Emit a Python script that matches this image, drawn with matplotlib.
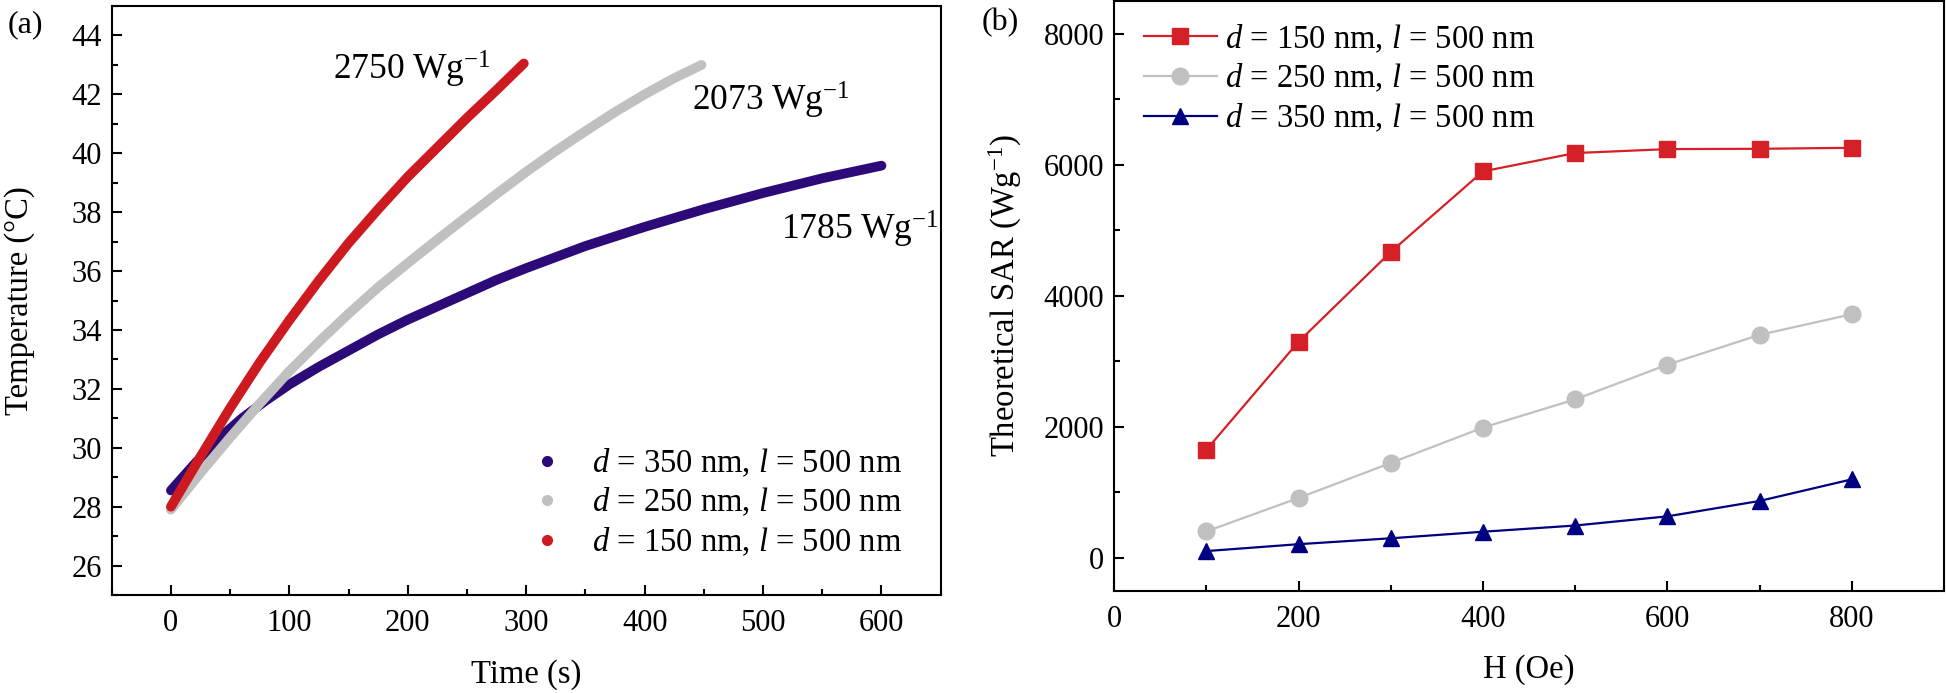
import numpy as np
import matplotlib
matplotlib.use('Agg')
import matplotlib.pyplot as plt
from matplotlib.lines import Line2D
from matplotlib.ticker import MultipleLocator

plt.rcParams['font.family'] = 'Liberation Serif'
plt.rcParams['mathtext.fontset'] = 'custom'
plt.rcParams['mathtext.rm'] = 'Liberation Serif'
plt.rcParams['mathtext.it'] = 'Liberation Serif:italic'

# (a) heating curves
t_150 = [0, 25, 50, 75, 100, 125, 150, 175, 200, 225, 250, 275, 298]
T_150 = [28.0, 29.7, 31.35, 32.9, 34.33, 35.68, 36.95, 38.1, 39.2, 40.2, 41.2, 42.15, 43.05]

t_250 = [0, 25, 50, 75, 100, 125, 150, 175, 200, 225, 250, 275, 300, 325, 350, 375, 400, 425, 448]
T_250 = [27.9, 29.15, 30.35, 31.5, 32.6, 33.6, 34.55, 35.45, 36.27, 37.07, 37.85, 38.62, 39.37,
         40.08, 40.75, 41.4, 42.0, 42.55, 43.0]

t_350 = [0, 20, 40, 60, 80, 100, 125, 150, 175, 200, 225, 250, 275, 300, 350, 400, 450, 500, 550, 600]
T_350 = [28.55, 29.45, 30.3, 31.0, 31.6, 32.15, 32.75, 33.3, 33.85, 34.35, 34.8, 35.25, 35.7, 36.1,
         36.85, 37.5, 38.1, 38.65, 39.15, 39.58]

sar_labels = ['2750 Wg$^{\\mathregular{-1}}$', '2073 Wg$^{\\mathregular{-1}}$', '1785 Wg$^{\\mathregular{-1}}$']

# (b) theoretical SAR vs field
H = [100, 200, 300, 400, 500, 600, 700, 800]
sar_150 = [1650, 3300, 4670, 5900, 6180, 6240, 6245, 6260]
sar_250 = [405, 915, 1450, 1990, 2420, 2950, 3405, 3720]
sar_350 = [105, 210, 300, 400, 495, 635, 870, 1200]

lab_150 = '$d$ = 150 nm, $l$ = 500 nm'
lab_250 = '$d$ = 250 nm, $l$ = 500 nm'
lab_350 = '$d$ = 350 nm, $l$ = 500 nm'

c_blue_a = '#2c0a78'
c_gray = '#c0c0c0'
c_red_a = '#cc1a20'
c_red_b = '#d42026'
c_blue_b = '#000080'

fs_tick = 22
fs_lab = 23.5
fs_leg = 23.5

fig = plt.figure(figsize=(19.46, 6.93), dpi=100)
ax1 = fig.add_axes([0.0574, 0.1414, 0.4260, 0.8499])
ax2 = fig.add_axes([0.5725, 0.1476, 0.4265, 0.8509])

for ax in (ax1, ax2):
    for s in ax.spines.values():
        s.set_linewidth(1.5)
    ax.tick_params(which='both', direction='in', top=False, right=False, labelsize=fs_tick, width=1.5)
    ax.tick_params(which='major', length=7)
    ax.tick_params(which='minor', length=4)
    ax.tick_params(axis='x', which='major', pad=10)
    ax.tick_params(axis='y', which='major', pad=7)

# panel (a)
ax1.plot(t_350, T_350, '-', color=c_blue_a, lw=7, solid_capstyle='round', solid_joinstyle='round')
ax1.plot(t_250, T_250, '-', color=c_gray, lw=7, solid_capstyle='round', solid_joinstyle='round')
ax1.plot(t_150, T_150, '-', color=c_red_a, lw=7, solid_capstyle='round', solid_joinstyle='round')
ax1.set_xlim(-50, 650)
ax1.set_ylim(25, 45)
ax1.xaxis.set_major_locator(MultipleLocator(100))
ax1.xaxis.set_minor_locator(MultipleLocator(50))
ax1.yaxis.set_minor_locator(MultipleLocator(1))
ax1.set_yticks(np.arange(26, 45, 2))
ax1.set_xlabel('Time (s)', fontsize=fs_lab, labelpad=15)
ax1.set_ylabel('Temperature (°C)', fontsize=fs_lab, labelpad=26)

ax1.text(137, 42.85, sar_labels[0], fontsize=25.5, va='center', ha='left')
ax1.text(440, 41.8, sar_labels[1], fontsize=25.5, va='center', ha='left')
ax1.text(515, 37.4, sar_labels[2], fontsize=25.5, va='center', ha='left')

handles_a = [Line2D([], [], ls='none', marker='o', ms=7, color=c) for c in (c_blue_a, c_gray, c_red_a)]
ax1.legend(handles_a, [lab_350, lab_250, lab_150], loc='lower right', frameon=False,
           fontsize=fs_leg, handlelength=1.6, handletextpad=0.58, labelspacing=0.22,
           borderaxespad=0, bbox_to_anchor=(0.969, 0.04))

# panel (b)
ax2.plot(H, sar_150, '-s', color=c_red_b, lw=1.6, ms=11, label=lab_150)
ax2.plot(H, sar_250, '-o', color=c_gray, lw=1.6, ms=12, label=lab_250)
ax2.plot(H, sar_350, '-^', color=c_blue_b, lw=1.6, ms=12, label=lab_350)
ax2.set_xlim(0, 900)
ax2.set_ylim(-500, 8500)
ax2.xaxis.set_major_locator(MultipleLocator(200))
ax2.xaxis.set_minor_locator(MultipleLocator(100))
ax2.set_yticks([0, 2000, 4000, 6000, 8000])
ax2.yaxis.set_minor_locator(MultipleLocator(1000))
ax2.set_xlabel('H (Oe)', fontsize=fs_lab, labelpad=15)
ax2.set_ylabel('Theoretical SAR (Wg$^{\\mathregular{-1}}$)', fontsize=fs_lab, labelpad=14)
ax2.legend(loc='upper left', frameon=False, fontsize=fs_leg, handlelength=2.24,
           handletextpad=0.25, labelspacing=0.22, borderaxespad=0, bbox_to_anchor=(0.02, 0.986))

fig.text(0.004, 0.964, '(a)', fontsize=23, va='center', ha='left')
fig.text(0.5046, 0.968, '(b)', fontsize=23, va='center', ha='left')

fig.savefig('out.png', dpi=100)
